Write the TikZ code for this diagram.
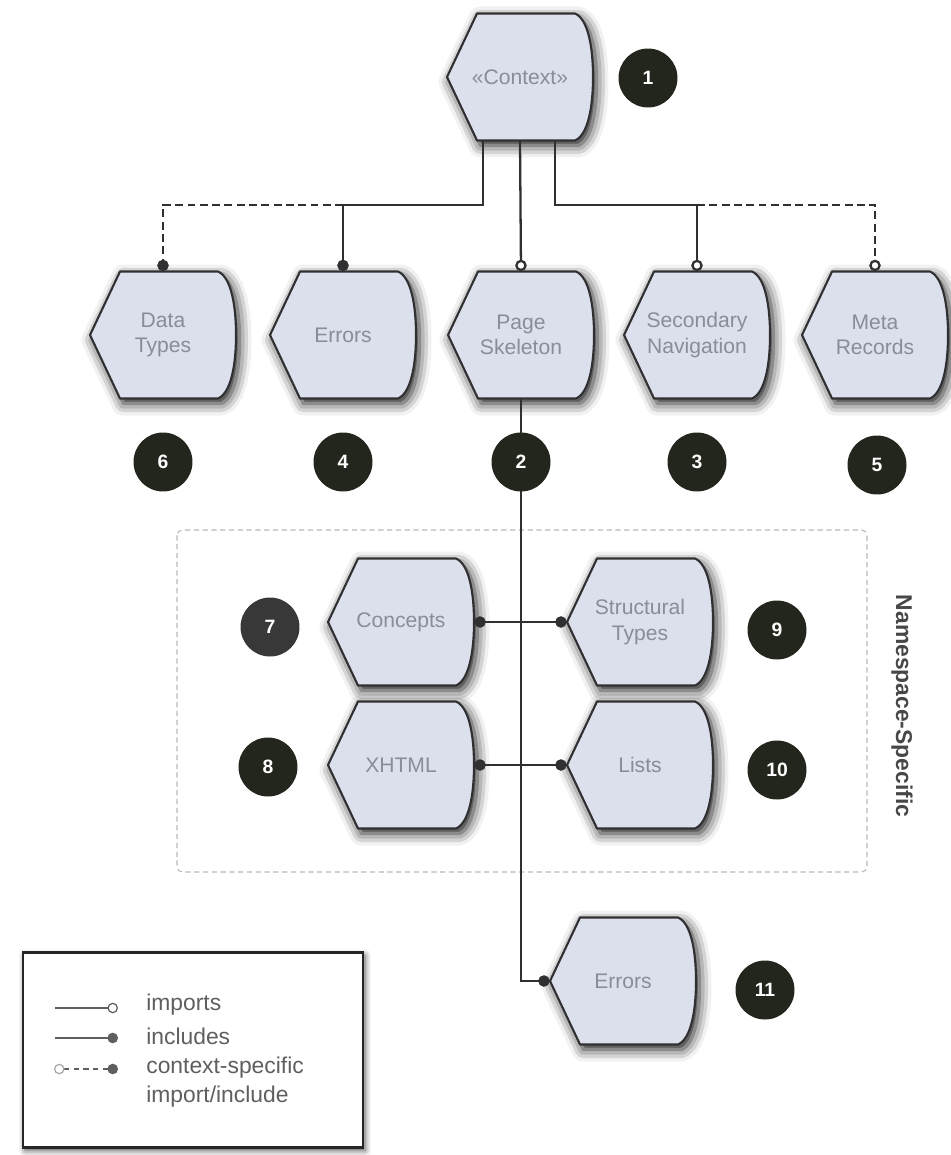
\documentclass[tikz,border=0pt]{standalone}
\usepackage{fontspec}
\setmainfont{Liberation Sans}
\usetikzlibrary{positioning, arrows.meta, calc, shadows.blur}
\definecolor{boxfill}{RGB}{220,223,236}
\definecolor{boxline}{RGB}{48,48,50}
\definecolor{badgefill}{RGB}{34,38,28}
\definecolor{labelgray}{RGB}{138,141,153}
\definecolor{leggray}{RGB}{95,95,98}
\tikzset{%
	blk/.style = {name = #1, rectangle, minimum width = 2.92cm, minimum height = 2.54cm, inner sep = 0pt, align = center, text = labelgray, font = \fontsize{12}{14.5}\selectfont},
	num/.style = {name = #1, circle, fill = badgefill, minimum size = 1.18cm, inner sep = 0pt, text = white, font = \bfseries\fontsize{11}{13}\selectfont},
	outline/.style = {draw = boxline, fill = boxfill, line width = 1.2pt, line join = round,
		blur shadow = {shadow xshift = 0.7mm, shadow yshift = -1mm, shadow blur radius = 2.4mm, shadow opacity = 90}},
	link/.style = {draw = boxline, line width = 1.3pt},
	inc/.style = {link, -{Circle[length = 6.5pt]}},
	imp/.style = {link, -{Circle[length = 6.5pt, fill = white]}},
	both/.style = {link, line width = 1.1pt, {Circle[length = 6.5pt]}-{Circle[length = 6.5pt]}},
	ctxdash/.style = {dash pattern = on 4.5pt off 2.5pt},
	nsbox/.style = {draw = gray!55, line width = 0.6pt, dash pattern = on 3pt off 2pt, rounded corners = 3pt},
	legbox/.style = {name = #1, draw = black!85, line width = 1.3pt, fill = white, minimum width = 6.8cm, minimum height = 3.9cm,
		blur shadow = {shadow xshift = 0.4mm, shadow yshift = -0.6mm, shadow blur radius = 1.2mm, shadow opacity = 70}},
	legtxt/.style = {name = #1, anchor = west, inner sep = 0pt, align = left, text = leggray, font = \fontsize{13}{16.5}\selectfont},
	legline/.style = {draw = leggray, line width = 0.7pt}
}

\begin{document}
\begin{tikzpicture}[x = 0.02cm, y = -0.02cm]
	\useasboundingbox (0,0) rectangle (950,1155);

	\draw [nsbox] (177,530) rectangle (867,872);
	\node [rotate = -90, text = black!72, font = \bfseries\fontsize{13}{15}\selectfont] (nslabel) at (902,706) {Namespace-Specific};

	% schema modules: outline first, then the named node on top
	\foreach \nm/\cx/\cy/\txt in {ctx/520/77/{«Context»}, dt/163/335/{Data\\Types}, err/343/335/{Errors},
			skel/521/335/{Page\\Skeleton}, nav/697/335/{Secondary\\Navigation}, meta/875/335/{Meta\\Records},
			cnc/401/622/{Concepts}, str/640/622/{Structural\\Types}, xht/401/765/{XHTML}, lst/640/765/{Lists},
			er2/623/981/{Errors}}
	{
		\path [outline, shift = {(\cx,\cy)}] (-73,0) -- (-43,-63.5) -- (55,-63.5)
			.. controls (68,-58) and (73,-30) .. (73,0) .. controls (73,30) and (68,58) .. (55,63.5)
			-- (-43,63.5) -- cycle;
		\node [blk = \nm] at (\cx,\cy) {\txt};
	}

	% connectors
	\coordinate (lj) at ($(ctx.south)+(-37,64)$);
	\coordinate (rj) at ($(ctx.south)+(35,64)$);
	\draw [inc] ($(ctx.south)+(-37,0)$) -- (lj) -| (err.north);
	\draw [inc, ctxdash] (lj -| err.north) -| (dt.north);
	\draw [imp] (ctx.south) -- (skel.north);
	\draw [imp] ($(ctx.south)+(35,0)$) -- (rj) -| (nav.north);
	\draw [imp, ctxdash] (rj -| nav.north) -| (meta.north);
	\draw [inc] (skel.south) |- (er2.west);
	\draw [both] (cnc.east) -- (str.west);
	\draw [both] (xht.east) -- (lst.west);

	% numbers
	\node [num = n1] at (648,78) {1};
	\node [num = n6] at (163,462) {6};
	\node [num = n4] at (343,462) {4};
	\node [num = n2] at (521,462) {2};
	\node [num = n3] at (697,462) {3};
	\node [num = n5] at (877,465) {5};
	\node [num = n7, fill = black!78] at (270,627) {7};
	\node [num = n8] at (268,767) {8};
	\node [num = n9] at (777,630) {9};
	\node [num = n10] at (777,770) {10};
	\node [num = n11] at (765,990) {11};

	% legend
	\node [legbox = leg] at (193,1050) {};
	\node [legtxt = t1] at (146,1005) {imports};
	\node [legtxt = t2] at (146,1036) {includes};
	\node [legtxt = t3] at (146,1082) {context-specific\\import/include};
	\coordinate (a1) at (55,1008);
	\coordinate (b1) at (118,1008);
	\coordinate (a2) at (55,1038);
	\coordinate (b2) at (118,1038);
	\coordinate (a3) at (54,1069);
	\coordinate (b3) at (118,1069);
	\draw [legline, -{Circle[length = 6pt, fill = white]}] (a1) -- (b1);
	\draw [legline, -{Circle[length = 6pt]}] (a2) -- (b2);
	\draw [legline, dash pattern = on 3pt off 2.5pt, {Circle[length = 6pt, fill = white, color = gray!70]}-{Circle[length = 6pt]}] (a3) -- (b3);
\end{tikzpicture}
\end{document}
